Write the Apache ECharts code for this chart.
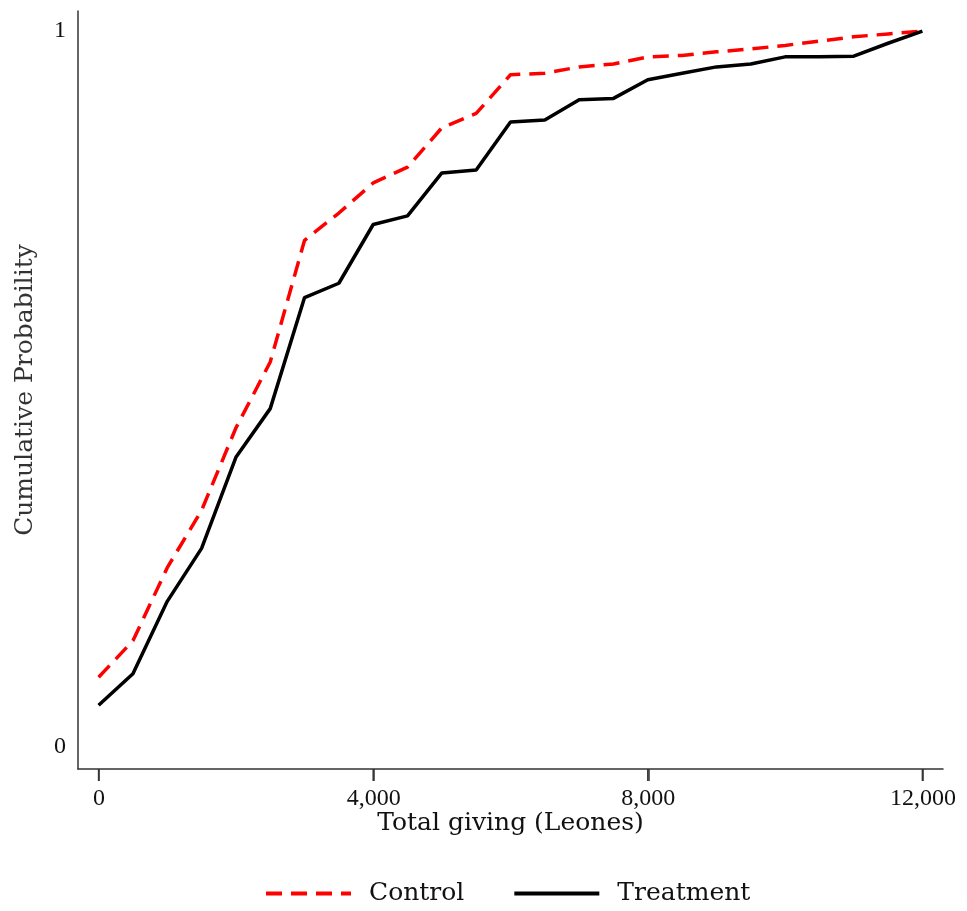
<!DOCTYPE html>
<html><head><meta charset="utf-8">
<script src="https://cdn.jsdelivr.net/npm/echarts@6/dist/echarts.min.js"></script>
<style>html,body{margin:0;padding:0;background:#fff}#c{width:967px;height:911px}</style>
</head><body><div id="c"></div>
<script>
const giving = [0,500,1000,1500,2000,2500,3000,3500,4000,4500,5000,5500,6000,6500,7000,7500,8000,8500,9000,9500,10000,10500,11000,11500,12000];
const control = [0.098,0.149,0.251,0.331,0.446,0.538,0.708,0.746,0.788,0.810,0.865,0.885,0.939,0.941,0.950,0.954,0.964,0.966,0.971,0.975,0.980,0.986,0.992,0.996,1.0];
const treatment = [0.059,0.103,0.204,0.278,0.405,0.473,0.628,0.648,0.730,0.742,0.802,0.806,0.873,0.876,0.904,0.906,0.932,0.941,0.950,0.954,0.964,0.964,0.965,0.983,1.0];
const xTicks = [0,4000,8000,12000];
const xTickStep = 4000;
const yTickStep = 1;
const nameFont = '"DejaVu Serif","Liberation Serif",serif';
const tickFont = '"Liberation Serif",serif';
const chart = echarts.init(document.getElementById('c'));
chart.setOption({
  animation:false,
  grid:[
    {left:78,right:24,top:11,bottom:142,containLabel:false},
    {left:99,right:44,top:31,bottom:164,containLabel:false}
  ],
  xAxis:[
    {gridIndex:0,type:'value',min:-300,max:12300,
      name:'Total giving (Leones)',nameLocation:'middle',nameGap:42,nameMoveOverlap:false,
      nameTextStyle:{fontSize:25,color:'#111',fontFamily:nameFont},
      axisLine:{onZero:false,lineStyle:{color:'#333',width:1.5}},
      axisTick:{show:false},axisLabel:{show:false},splitLine:{show:false}},
    {gridIndex:1,type:'value',min:0,max:12000,interval:xTickStep,position:'bottom',offset:22,
      axisLine:{show:true,onZero:false,lineStyle:{color:'#333',width:1.5,opacity:0}},
      axisTick:{show:true,inside:false,length:12,lineStyle:{color:'#333',width:1.5,opacity:1}},
      axisLabel:{fontSize:24,fontFamily:tickFont,color:'#111',margin:18,
        formatter:function(v){return Math.round(v).toLocaleString('en-US');}},
      splitLine:{show:false}}
  ],
  yAxis:[
    {gridIndex:0,type:'value',min:-0.03,max:1.028,
      name:'Cumulative Probability',nameLocation:'middle',nameGap:40,nameMoveOverlap:false,
      nameTextStyle:{fontSize:25,color:'#333',fontFamily:nameFont},
      axisLine:{show:true,onZero:false,lineStyle:{color:'#333',width:1.5}},
      axisTick:{show:false},axisLabel:{show:false},splitLine:{show:false}},
    {gridIndex:1,type:'value',min:0,max:1,interval:yTickStep,position:'left',offset:21,
      axisLine:{show:false,onZero:false},
      axisTick:{show:false},
      axisLabel:{fontSize:24,fontFamily:tickFont,color:'#111',margin:12},
      splitLine:{show:false}}
  ],
  legend:{bottom:0,left:259,itemWidth:85,itemHeight:14,itemGap:48,
    itemStyle:{opacity:0},
    lineStyle:{width:4},
    textStyle:{fontSize:25,color:'#111',fontFamily:nameFont,padding:[0,0,0,13]},
    data:['Control','Treatment']},
  series:[
    {name:'Control',type:'line',xAxisIndex:0,yAxisIndex:0,symbol:'none',data:giving.map((g,i)=>[g,control[i]]),
      lineStyle:{color:'#ff0000',width:3.5,type:[16,9]},itemStyle:{color:'#ff0000'}},
    {name:'Treatment',type:'line',xAxisIndex:0,yAxisIndex:0,symbol:'none',data:giving.map((g,i)=>[g,treatment[i]]),
      lineStyle:{color:'#000',width:3.5},itemStyle:{color:'#000'}},
    {name:'xticks',type:'custom',xAxisIndex:0,yAxisIndex:0,clip:false,silent:true,z:10,
      data:xTicks.map(v=>[v,-0.03]),
      encode:{x:0,y:1},
      renderItem:function(params,api){
        const p = api.coord([api.value(0), api.value(1)]);
        return {type:'line',shape:{x1:p[0],y1:p[1],x2:p[0],y2:p[1]+12},
          style:{stroke:'#333',lineWidth:1.5}};
      }}
  ]
});
</script></body></html>
